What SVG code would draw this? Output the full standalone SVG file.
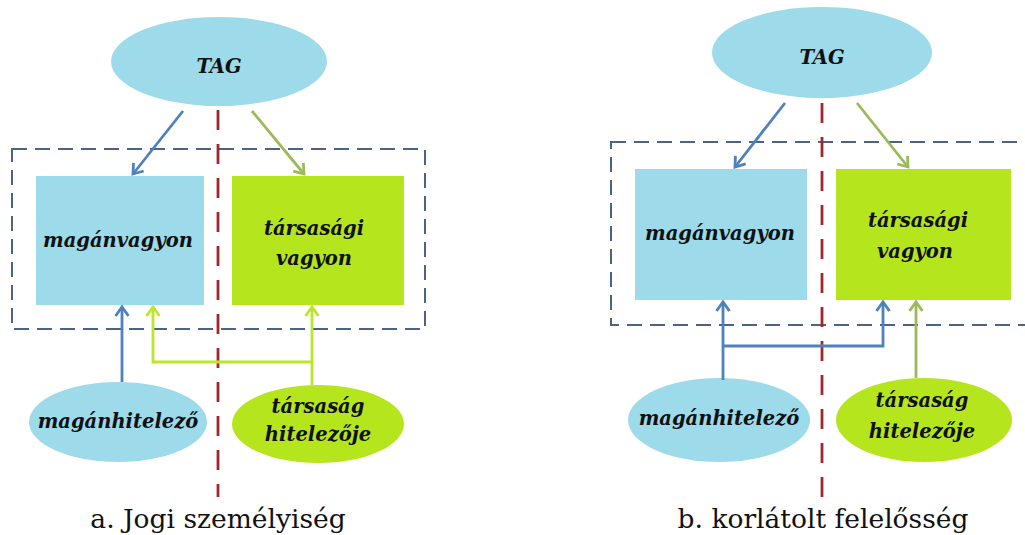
<svg xmlns="http://www.w3.org/2000/svg" width="1025" height="535" viewBox="0 0 1025 535">
<defs>
<marker id="mBlue" markerUnits="userSpaceOnUse" markerWidth="20" markerHeight="20" refX="0" refY="0" viewBox="-12 -10 14 20" orient="auto"><path d="M-9,-6.5 L0,0 L-9,6.5" fill="none" stroke="#4F81BD" stroke-width="2.8"/></marker>
<marker id="mOlive" markerUnits="userSpaceOnUse" markerWidth="20" markerHeight="20" refX="0" refY="0" viewBox="-12 -10 14 20" orient="auto"><path d="M-9,-6.5 L0,0 L-9,6.5" fill="none" stroke="#9BBB59" stroke-width="2.8"/></marker>
<marker id="mLime" markerUnits="userSpaceOnUse" markerWidth="20" markerHeight="20" refX="0" refY="0" viewBox="-12 -10 14 20" orient="auto"><path d="M-9,-6.5 L0,0 L-9,6.5" fill="none" stroke="#BCE62A" stroke-width="2.8"/></marker>
</defs>
<style>
.blue{fill:#9DDAEA}
.green{fill:#B5E61D}
.lbl{font-family:"DejaVu Serif",serif;font-weight:bold;font-style:italic;font-size:19.5px;fill:#111;text-anchor:middle}
.cap{font-family:"DejaVu Serif",serif;font-size:26.5px;fill:#111;text-anchor:middle}
.frame{fill:none;stroke:#4A6388;stroke-width:2;stroke-dasharray:15 8}
.divider{fill:none;stroke:#A0282C;stroke-width:2.8;stroke-dasharray:20 14}
.cb{fill:none;stroke:#4F81BD;stroke-width:2.8}
.co{fill:none;stroke:#9BBB59;stroke-width:2.8}
.cl{fill:none;stroke:#BCE62A;stroke-width:2.8}
</style>
<rect width="1025" height="535" fill="#fff"/>

<!-- Panel a -->
<g id="a-frame"><rect class="frame" x="12" y="149" width="413" height="180"/></g>
<g id="a-divider"><line class="divider" x1="218" y1="110" x2="218" y2="497"/></g>
<g id="a-tag"><ellipse class="blue" cx="219" cy="61.5" rx="108" ry="44.5"/><text class="lbl" x="219" y="73" font-size="21">TAG</text></g>
<g id="a-maganvagyon"><rect class="blue" x="36" y="176" width="168" height="129"/><text class="lbl" x="118" y="247">magánvagyon</text></g>
<g id="a-tarsasagi-vagyon"><rect class="green" x="232" y="176" width="172" height="129"/><text class="lbl" x="314" y="235">társasági</text><text class="lbl" x="314" y="265">vagyon</text></g>
<g id="a-maganhitelezo"><ellipse class="blue" cx="118" cy="422" rx="89" ry="40"/><text class="lbl" x="118" y="428">magánhitelező</text></g>
<g id="a-tarsasag-hitelezoje"><ellipse class="green" cx="318" cy="424" rx="86" ry="39"/><text class="lbl" x="318" y="413">társaság</text><text class="lbl" x="318" y="441">hitelezője</text></g>
<g id="a-connectors">
<line class="cb" x1="183" y1="111" x2="133" y2="174" marker-end="url(#mBlue)"/>
<line class="co" x1="252" y1="111" x2="304" y2="174" marker-end="url(#mOlive)"/>
<line class="cb" x1="122" y1="382" x2="122" y2="307" marker-end="url(#mBlue)"/>
<polyline class="cl" points="312,385 312,307" marker-end="url(#mLime)"/>
<polyline class="cl" points="312,362 153,362 153,307" marker-end="url(#mLime)"/>
</g>
<text class="cap" x="218" y="528">a. Jogi személyiség</text>

<!-- Panel b -->
<g id="b-frame"><rect class="frame" x="611" y="142" width="430" height="183"/></g>
<g id="b-divider"><line class="divider" x1="822" y1="103" x2="822" y2="497"/></g>
<g id="b-tag"><ellipse class="blue" cx="822" cy="52.5" rx="110" ry="45.5"/><text class="lbl" x="822" y="64" font-size="21">TAG</text></g>
<g id="b-maganvagyon"><rect class="blue" x="635" y="169" width="172" height="131"/><text class="lbl" x="720" y="240">magánvagyon</text></g>
<g id="b-tarsasagi-vagyon"><rect class="green" x="836" y="169" width="175" height="131"/><text class="lbl" x="918" y="227">társasági</text><text class="lbl" x="915" y="258">vagyon</text></g>
<g id="b-maganhitelezo"><ellipse class="blue" cx="719" cy="420" rx="91" ry="42"/><text class="lbl" x="719" y="425">magánhitelező</text></g>
<g id="b-tarsasag-hitelezoje"><ellipse class="green" cx="924" cy="420" rx="88" ry="42"/><text class="lbl" x="922" y="407">társaság</text><text class="lbl" x="922" y="438">hitelezője</text></g>
<g id="b-connectors">
<line class="cb" x1="785" y1="103" x2="735" y2="167" marker-end="url(#mBlue)"/>
<line class="co" x1="857" y1="103" x2="908" y2="167" marker-end="url(#mOlive)"/>
<polyline class="cb" points="723,380 723,302" marker-end="url(#mBlue)"/>
<polyline class="cb" points="723,346 883,346 883,302" marker-end="url(#mBlue)"/>
<line class="co" x1="916" y1="378" x2="916" y2="302" marker-end="url(#mOlive)"/>
</g>
<text class="cap" x="823" y="528">b. korlátolt felelősség</text>
</svg>
